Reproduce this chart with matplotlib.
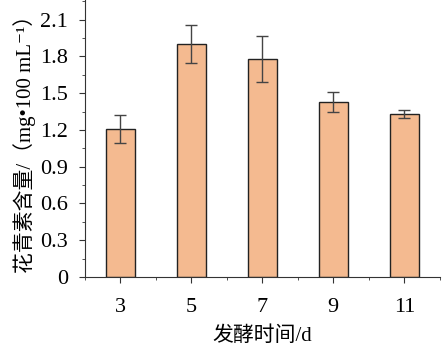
import matplotlib.pyplot as plt
from matplotlib.ticker import MultipleLocator

# fermentation time (d) vs anthocyanin content
days = [3, 5, 7, 9, 11]
content = [1.21, 1.90, 1.78, 1.43, 1.33]
errors = [0.115, 0.155, 0.19, 0.08, 0.033]

plt.rcParams['font.family'] = ['Liberation Serif', 'Noto Sans CJK SC', 'DejaVu Serif']
plt.rcParams['font.size'] = 16

fig = plt.figure(figsize=(4.42, 3.51), dpi=100)
ax = fig.add_axes([0.192, 0.211, 0.803, 0.789])

ax.bar(days, content, width=0.82, color="#F4BA90", edgecolor="#222222", linewidth=1.0,
       yerr=errors, error_kw=dict(ecolor="#444444", elinewidth=1.0, capsize=4, capthick=1.0))

ax.set_xlim(2, 12)
ax.set_ylim(0, 2.26)
ax.set_xticks(days)
ax.xaxis.set_minor_locator(MultipleLocator(1))
ax.yaxis.set_minor_locator(MultipleLocator(0.15))
ax.set_yticks([0, 0.3, 0.6, 0.9, 1.2, 1.5, 1.8, 2.1])
ax.set_yticklabels(["0", "0.3", "0.6", "0.9", "1.2", "1.5", "1.8", "2.1"])

for s in ["top", "right"]:
    ax.spines[s].set_visible(False)
for s in ["left", "bottom"]:
    ax.spines[s].set_color("#333333")
ax.tick_params(which="major", length=4, color="#333333", direction="out")
ax.tick_params(axis="x", which="major", pad=11)
ax.tick_params(axis="y", which="major", pad=8)
ax.tick_params(which="minor", length=2.5, color="#333333", direction="out")

ax.set_xlabel("发酵时间/d", fontsize=15, labelpad=7)
ax.set_ylabel("花青素含量/（mg•100 mL⁻¹）", fontsize=15, labelpad=3)

fig.savefig("out.png", dpi=100)
